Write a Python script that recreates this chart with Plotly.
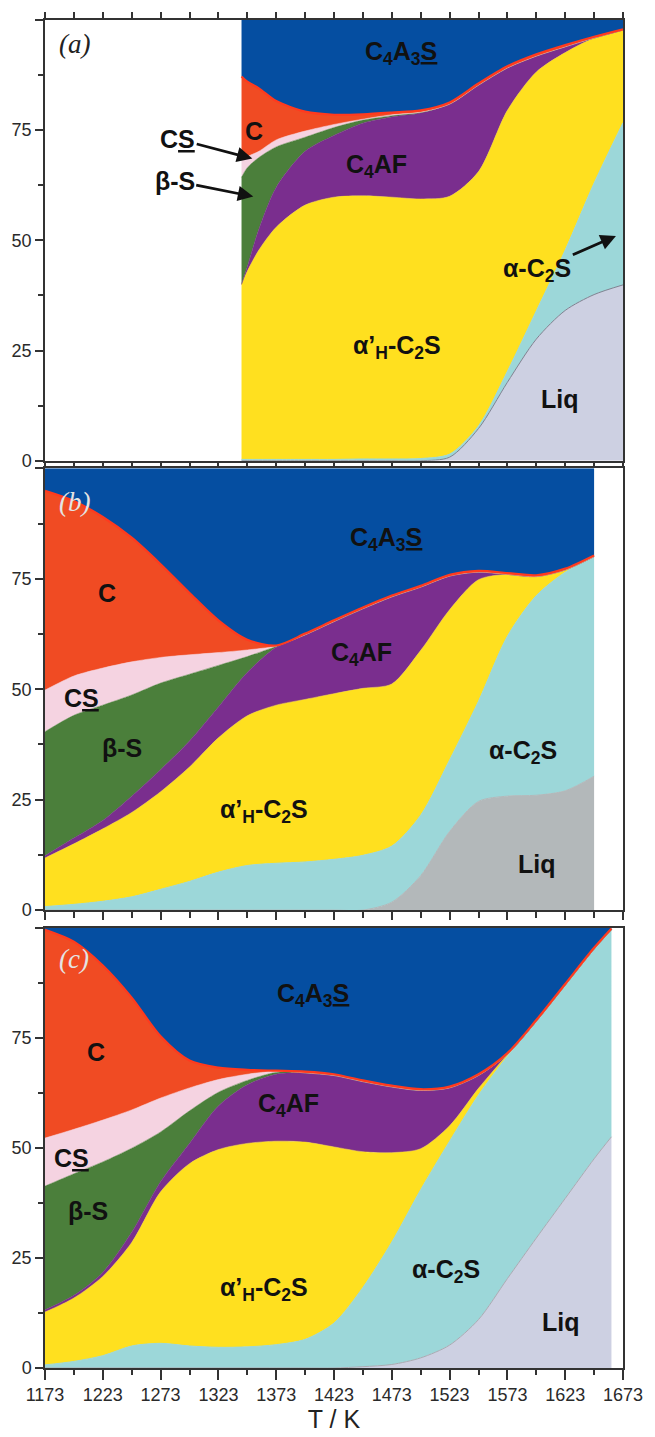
import plotly.graph_objects as go

# phase assemblage vs temperature, cumulative wt% (top edge of each phase band)
# stacking order bottom -> top: Liq, a-C2S, a'H-C2S, C4AF, b-S, CS, C, C4A3S

# ---- panel (a)
T_A = [1343, 1348, 1358, 1373, 1398, 1423, 1448, 1473, 1498, 1523, 1548, 1573, 1598, 1623, 1648, 1673]
A_LIQ = [0, 0, 0, 0, 0, 0, 0, 0, 0, 0.8, 7.3, 17.8, 27.6, 34.1, 37.7, 39.9]
A_AC2S = [0.3, 0.3, 0.3, 0.3, 0.3, 0.3, 0.4, 0.4, 0.5, 1.5, 7.9, 20.3, 34, 47.8, 63, 76.7]
A_AHC2S = [40, 43, 47.8, 53, 58, 59.8, 60.1, 59.8, 59.4, 60, 65.6, 79.5, 88.2, 92.6, 95.9, 97.7]
A_C4AF = [40, 44, 52.5, 62, 70.2, 73.8, 76.6, 78, 78.9, 80.9, 85.2, 89.1, 91.8, 93.9, 95.9, 97.7]
A_BS = [64.3, 66.5, 68.8, 71.2, 73.4, 75.6, 77.3, 78.3, 79, 80.9, 85.2, 89.1, 91.8, 93.9, 95.9, 97.7]
A_CS = [68.1, 69, 70.2, 72.8, 74.8, 76.3, 77.5, 78.5, 79.1, 80.9, 85.2, 89.1, 91.8, 93.9, 95.9, 97.7]
A_C = [87.2, 86, 84.5, 81.6, 79.2, 78.5, 78.6, 79, 79.5, 81.3, 85.6, 89.5, 92.2, 94.3, 96.2, 97.9]
A_C4A3S = [100] * len(T_A)

# ---- panel (b)
T_B = [1173, 1198, 1223, 1248, 1273, 1298, 1323, 1348, 1373, 1398, 1423, 1448,
       1473, 1498, 1523, 1548, 1573, 1598, 1623, 1648]
B_LIQ = [0, 0, 0, 0, 0, 0, 0, 0, 0, 0, 0, 0, 1.8, 7.8, 17.8, 24.6, 25.8, 26, 27, 30.3]
B_AC2S = [0.8, 1.3, 2, 3, 4.7, 6.5, 8.6, 10.1, 10.6, 10.9, 11.5, 12.4, 14.5, 21.5, 34, 47.3, 62, 71.2, 76.5, 80]
B_AHC2S = [11.8, 15, 18.4, 22.1, 26.8, 32.4, 39, 44, 46.4, 47.7, 49, 50.2, 51.2, 58.8, 68, 74.8, 76, 75.5, 77, 80]
B_C4AF = [12.3, 16.3, 20.3, 25.8, 31.8, 38.3, 46, 53.8, 59.5, 62.3, 65.3, 68.2, 70.9, 73.1, 75.6, 76.5, 76, 75.5, 77, 80]
B_BS = [40.4, 44.1, 46.4, 48.7, 51.4, 53.4, 55.4, 57.4, 59.7, 62.3, 65.3, 68.2, 70.9, 73.1, 75.6, 76.5, 76, 75.5, 77, 80]
B_CS = [49.8, 53, 54.8, 56.2, 57.2, 57.8, 58.3, 58.9, 59.8, 62.3, 65.3, 68.2, 70.9, 73.1, 75.6, 76.5, 76, 75.5, 77, 80]
B_C = [94.9, 92.6, 89, 84.3, 78.3, 71.8, 65.6, 61.2, 59.9, 62.6, 65.6, 68.5, 71.2, 73.4, 75.9, 76.8, 76.3, 75.8, 77.3, 80.3]
B_C4A3S = [100] * len(T_B)

# ---- panel (c)
T_C = [1173, 1198, 1223, 1248, 1273, 1298, 1323, 1348, 1373, 1398, 1423, 1448,
       1473, 1498, 1523, 1548, 1573, 1598, 1623, 1648, 1663]
C_LIQ = [0, 0, 0, 0, 0, 0, 0, 0, 0, 0, 0, 0.3, 0.8, 2.3, 5.2, 11, 20.3, 29.5, 38.5, 47.5, 52.5]
C_AC2S = [0.7, 1.5, 2.8, 5, 5.6, 5, 4.7, 4.8, 5.3, 6.5, 10.2, 18.3, 28.6, 40.5, 51.5, 62, 70.8, 78.7, 86.9, 95.1, 99.5]
C_AHC2S = [12.7, 15.9, 20.8, 28.5, 40, 46.4, 49.6, 51, 51.5, 51.3, 50.2, 49.1, 48.9, 49.8, 55, 63.5, 71.2, 78.7, 86.9, 95.1, 99.5]
C_C4AF = [13.2, 16.5, 21.7, 30.8, 42.3, 51, 59.5, 64.3, 66.7, 67, 66.4, 65, 63.8, 63, 63.6, 66.4, 71.2, 78.7, 86.9, 95.1, 99.5]
C_BS = [41.3, 44.1, 46.8, 49.9, 53.6, 58.4, 62.6, 65.3, 67.1, 67, 66.4, 65, 63.8, 63, 63.6, 66.4, 71.2, 78.7, 86.9, 95.1, 99.5]
C_CS = [52.2, 54.2, 56.3, 58.6, 61.3, 63.6, 65.5, 66.7, 67.4, 67, 66.4, 65, 63.8, 63, 63.6, 66.4, 71.2, 78.7, 86.9, 95.1, 99.5]
C_C = [99.5, 96.8, 91.4, 84.1, 75.3, 69.8, 68.2, 67.7, 67.5, 67.3, 66.7, 65.3, 64.1, 63.3, 63.9, 66.7, 71.5, 79, 87.2, 95.4, 99.8]
C_C4A3S = [100] * len(T_C)

# phase colours
BLUE = "#054EA1"
RED = "#F04B23"
PINK = "#F5D3E1"
GREEN = "#4B7F3B"
PURPLE = "#7A2E8E"
YELLOW = "#FFE01F"
CYAN = "#9CD7D9"
LIQ_AC = "#CDD0E2"
LIQ_B = "#B3B8BA"
RED_LINE = "#FF3A1E"

fig = go.Figure()


def add_panel(temps, tops, liq_col, liq_line, xa, ya):
    fills = [liq_col, CYAN, YELLOW, PURPLE, GREEN, PINK, RED, BLUE]
    lines = [(liq_line, 1), (CYAN, 1), (YELLOW, 0.5), (PURPLE, 0.6), (GREEN, 0.5),
             (PINK, 0.5), (RED_LINE, 2.2), (BLUE, 0)]
    for i, top in enumerate(tops):
        fig.add_trace(go.Scatter(
            x=temps, y=top, mode="lines", xaxis=xa, yaxis=ya,
            fill="tozeroy" if i == 0 else "tonexty", fillcolor=fills[i],
            line=dict(color=lines[i][0], width=lines[i][1], shape="spline", smoothing=0.8),
            hoverinfo="skip", showlegend=False))


add_panel(T_A, [A_LIQ, A_AC2S, A_AHC2S, A_C4AF, A_BS, A_CS, A_C, A_C4A3S], LIQ_AC, "#7f8090", "x3", "y3")
add_panel(T_B, [B_LIQ, B_AC2S, B_AHC2S, B_C4AF, B_BS, B_CS, B_C, B_C4A3S], LIQ_B, LIQ_B, "x2", "y2")
add_panel(T_C, [C_LIQ, C_AC2S, C_AHC2S, C_C4AF, C_BS, C_CS, C_C, C_C4A3S], LIQ_AC, "#a9aab2", "x", "y")

AX = "#333333"
tick_font = dict(family="Liberation Sans, Arial, sans-serif", size=18, color="#2a2a2a")


def xax(ticklen, minorlen, mirror, labels, anchor):
    return dict(range=[1173, 1673], tick0=1173, dtick=50, ticks="outside", ticklen=ticklen,
                tickwidth=1.5, tickcolor=AX, showline=True, linecolor=AX, linewidth=1.5,
                mirror=mirror, showgrid=False, zeroline=False, showticklabels=labels,
                tickfont=tick_font, anchor=anchor,
                minor=dict(ticks="outside", ticklen=minorlen, tickwidth=1.5, tickcolor=AX,
                           tick0=1173, dtick=25))


def yax(domain, anchor):
    return dict(range=[0, 100], domain=domain, anchor=anchor,
                tickvals=[0, 25, 50, 75, 100], ticktext=["0", "25", "50", "75", ""],
                ticks="outside", ticklen=8, tickwidth=1.5, tickcolor=AX,
                showline=True, linecolor=AX, linewidth=1.5, mirror=True,
                showgrid=False, zeroline=False, tickfont=tick_font,
                minor=dict(ticks="outside", ticklen=5, tickwidth=1.5, tickcolor=AX,
                           tickvals=[12.5, 37.5, 62.5, 87.5]))


xa_c = xax(10, 5, True, True, "y")
xa_c["title"] = dict(text="T / K", font=dict(family="Liberation Sans, Arial, sans-serif",
                                             size=25, color="#222222"), standoff=2)

fig.update_layout(
    width=655, height=1437, autosize=False,
    margin=dict(l=45, r=22, t=15, b=64),
    paper_bgcolor="white", plot_bgcolor="white",
    xaxis=xa_c,
    xaxis2=xax(8, 6, True, False, "y2"),
    xaxis3=xax(6, 6, "ticks", False, "y3"),
    yaxis=yax([0, 0.32673], "x"),
    yaxis2=yax([0.33969, 0.66738], "x2"),
    yaxis3=yax([0.67305, 1.0], "x3"),
)

LBL = dict(family="Liberation Sans, Arial, sans-serif", size=25, color="#111111")
PANEL = dict(family="Liberation Serif, Times New Roman, serif", size=27)

C4A3S = "<b>C<sub>4</sub>A<sub>3</sub><u>S</u></b>"
C4AF = "<b>C<sub>4</sub>AF</b>"
AH = "<b>α’<sub>H</sub>-C<sub>2</sub>S</b>"
AC2S = "<b>α-C<sub>2</sub>S</b>"
CS = "<b>C<u>S</u></b>"

# (text, x, y, panel, colour for panel tags)
labels = [
    ("<i>(a)</i>", 1198.5, 94.5, "3", "#222222"),
    (C4A3S, 1480.7, 92.6, "3", None),
    ("<b>C</b>", 1354, 74.8, "3", None),
    (C4AF, 1459.5, 66.9, "3", None),
    (AH, 1477.3, 25.7, "3", None),
    ("<b>Liq</b>", 1618.4, 14, "3", None),
    ("<i>(b)</i>", 1198.5, 92.5, "2", "#E4E4E4"),
    ("<b>C</b>", 1226.6, 71.8, "2", None),
    (CS, 1204.5, 48, "2", None),
    ("<b>β-S</b>", 1239.3, 36.6, "2", None),
    (AH, 1362.6, 22.4, "2", None),
    (C4A3S, 1468, 84, "2", None),
    (C4AF, 1446.7, 57.9, "2", None),
    (AC2S, 1586.1, 35.9, "2", None),
    ("<b>Liq</b>", 1598.9, 10.5, "2", None),
    ("<i>(c)</i>", 1198.5, 92.9, "", "#E4E4E4"),
    ("<b>C</b>", 1217, 71.8, "", None),
    (CS, 1195.7, 47.7, "", None),
    ("<b>β-S</b>", 1209.8, 35.7, "", None),
    (C4AF, 1384, 59.7, "", None),
    (AH, 1362.8, 18, "", None),
    (C4A3S, 1405, 84.8, "", None),
    (AC2S, 1520, 22.1, "", None),
    ("<b>Liq</b>", 1619.3, 10.5, "", None),
]
for text, x, y, p, col in labels:
    font = LBL if col is None else dict(PANEL, color=col)
    fig.add_annotation(text=text, x=x, y=y, xref="x" + p, yref="y" + p,
                       showarrow=False, font=font)

# labels with arrows in panel (a): (text, tip x, tip y, text x, text y)
arrows = [
    (CS, 1353.2, 68.5, 1287.8, 73),
    ("<b>β-S</b>", 1354, 59.9, 1285.2, 63.5),
    (AC2S, 1667.7, 51.1, 1598.9, 43.2),
]
for text, x, y, tx, ty in arrows:
    fig.add_annotation(text=text, x=x, y=y, ax=tx, ay=ty, xref="x3", yref="y3",
                       axref="x3", ayref="y3", showarrow=True, arrowhead=2,
                       arrowsize=1.1, arrowwidth=2.8, arrowcolor="#111111",
                       standoff=1, font=LBL)

# the page body has a default margin; drop it so the figure sits at the window corner
fig.write_html("out.html", config={"displayModeBar": False},
               post_script="document.body.style.margin='0';")
